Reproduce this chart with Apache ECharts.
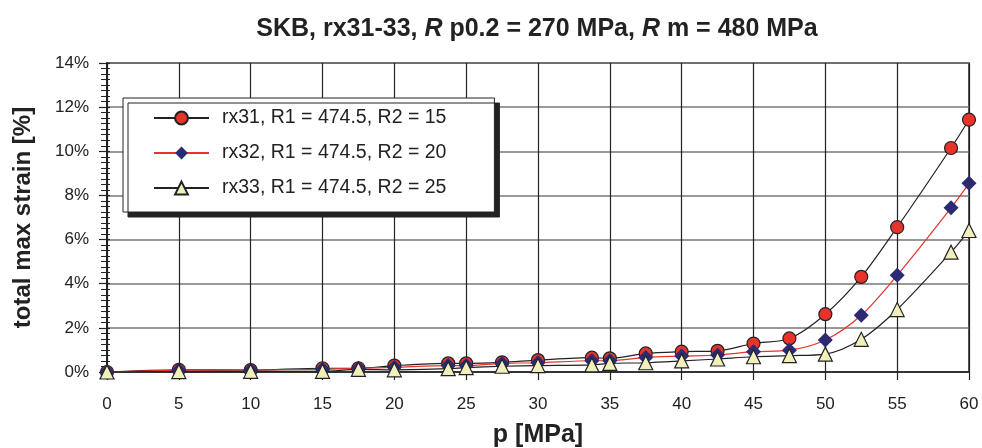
<!DOCTYPE html>
<html><head><meta charset="utf-8">
<script src="https://cdn.jsdelivr.net/npm/echarts@6/dist/echarts.min.js"></script>
<style>html,body{margin:0;padding:0;background:#fff}#c{width:982px;height:448px}</style>
</head><body><div id="c"></div>
<script>
const pressure = [0, 5, 10, 15, 17.5, 20, 23.75, 25, 27.5, 30, 33.75, 35, 37.5, 40, 42.5, 45, 47.5, 50, 52.5, 55, 58.75, 60];
const rx31 = [0, 0.10, 0.09, 0.17, 0.17, 0.29, 0.39, 0.39, 0.44, 0.54, 0.65, 0.62, 0.84, 0.92, 0.96, 1.29, 1.52, 2.62, 4.31, 6.56, 10.15, 11.43];
const rx32 = [0, 0.08, 0.09, 0.12, 0.17, 0.21, 0.29, 0.29, 0.39, 0.42, 0.51, 0.51, 0.66, 0.72, 0.77, 0.92, 0.99, 1.45, 2.57, 4.38, 7.44, 8.55];
const rx33 = [0, 0.02, 0.03, 0.03, 0.12, 0.10, 0.15, 0.20, 0.26, 0.29, 0.32, 0.39, 0.42, 0.50, 0.59, 0.69, 0.74, 0.81, 1.48, 2.83, 5.43, 6.41];
const seriesNames = ['rx31, R1 = 474.5, R2 = 15', 'rx32, R1 = 474.5, R2 = 20', 'rx33, R1 = 474.5, R2 = 25'];
const xTicks = {min: 0, max: 60, interval: 5};
const yTicks = {min: 0, max: 14, interval: 2};

const pairs = arr => pressure.map((p, i) => [p, arr[i]]);
const font = 'Liberation Sans, Arial, sans-serif';
const chart = echarts.init(document.getElementById('c'));
chart.setOption({
  animation: false,
  backgroundColor: '#fff',
  textStyle: {fontFamily: font},
  title: {
    text: '{b|SKB, rx31-33, }{i|R}{b| p0.2 = 270 MPa, }{i|R}{b| m = 480 MPa}',
    left: 532, textAlign: 'center', top: 12,
    textStyle: {rich: {
      b: {fontFamily: font, fontWeight: 'bold', fontSize: 25, color: '#222'},
      i: {fontFamily: font, fontWeight: 'bold', fontStyle: 'italic', fontSize: 25, color: '#222'}
    }}
  },
  legend: {
    orient: 'vertical', left: 123, top: 98,
    padding: [10, 48, 14, 30],
    itemGap: 15, itemWidth: 55, itemHeight: 16,
    backgroundColor: '#fff', borderColor: '#222', borderWidth: 1,
    shadowColor: '#222', shadowBlur: 0, shadowOffsetX: 5, shadowOffsetY: 5,
    textStyle: {fontFamily: font, fontSize: 19.5, lineHeight: 20, color: '#222', padding: [0, 0, 0, 8]},
    data: seriesNames
  },
  grid: {left: 107, right: 13, top: 63, bottom: 76, outerBoundsMode: 'none', containLabel: false,
         show: true, borderColor: '#222', borderWidth: 1.5, backgroundColor: 'transparent'},
  xAxis: {
    type: 'value', min: xTicks.min, max: xTicks.max, interval: xTicks.interval,
    name: 'p [MPa]', nameLocation: 'middle', nameGap: 51,
    nameTextStyle: {fontFamily: font, fontWeight: 'bold', fontSize: 25, color: '#222'},
    axisLine: {show: true, lineStyle: {color: '#222', width: 1.5}},
    axisTick: {show: true, length: 8, lineStyle: {color: '#222', width: 1.2}},
    axisLabel: {fontFamily: font, fontSize: 17, color: '#222', margin: 24},
    splitLine: {show: true, lineStyle: {color: '#222', width: 1.2}}
  },
  yAxis: [{
    type: 'value', min: yTicks.min, max: yTicks.max, interval: yTicks.interval,
    name: 'total max strain [%]', nameLocation: 'middle', nameGap: 72, nameRotate: 90,
    nameTextStyle: {fontFamily: font, fontWeight: 'bold', fontSize: 24, color: '#222'},
    axisLine: {show: true, lineStyle: {color: '#222', width: 2}},
    axisTick: {show: true, length: 8, lineStyle: {color: '#222', width: 1.2}},
    minorTick: {show: true, splitNumber: 8, length: 6, lineStyle: {color: '#222', width: 1}},
    axisLabel: {fontFamily: font, fontSize: 17, color: '#222', margin: 18, formatter: '{value}%'},
    splitLine: {show: true, lineStyle: {color: '#777', width: 1.5}}
  }, {
    type: 'value', min: yTicks.min, max: yTicks.max, interval: yTicks.interval,
    position: 'left', offset: 0,
    axisLine: {show: false},
    axisTick: {show: true, inside: true, length: 3, lineStyle: {color: '#222', width: 1.2}},
    minorTick: {show: true, splitNumber: 8, length: 3, lineStyle: {color: '#222', width: 1}},
    axisLabel: {show: false},
    splitLine: {show: false}
  }],
  series: [
    {name: seriesNames[0], type: 'line', data: pairs(rx31), smooth: 0.3,
     symbol: 'circle', symbolSize: 13,
     itemStyle: {color: '#e8332a', borderColor: '#222', borderWidth: 1.2},
     lineStyle: {color: '#222', width: 1.2}},
    {name: seriesNames[1], type: 'line', data: pairs(rx32), smooth: 0.3,
     symbol: 'diamond', symbolSize: 15,
     itemStyle: {color: '#2c2a72', borderColor: '#2c2a72', borderWidth: 0},
     lineStyle: {color: '#e8332a', width: 1.2}},
    {name: seriesNames[2], type: 'line', data: pairs(rx33), smooth: 0.3,
     symbol: 'triangle', symbolSize: 14,
     itemStyle: {color: '#f1f0bd', borderColor: '#222', borderWidth: 1.2},
     lineStyle: {color: '#222', width: 1.2}}
  ]
});
</script></body></html>
